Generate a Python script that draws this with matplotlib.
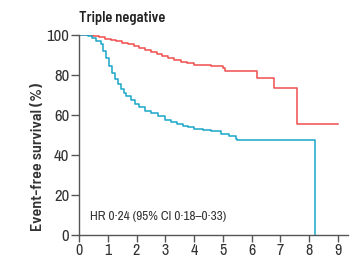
import matplotlib
matplotlib.use("Agg")
import matplotlib.pyplot as plt

plt.rcParams['font.family'] = ['Archivo Narrow', 'DejaVu Sans']
BOLD = ['Barlow Semi Condensed', 'Archivo Narrow', 'DejaVu Sans']

title = "Triple negative"
ylabel = "Event-free survival (%)"
annotation = "HR 0·24 (95% CI 0·18–0·33)"
xticks = [0, 1, 2, 3, 4, 5, 6, 7, 8, 9]
yticks = [0, 20, 40, 60, 80, 100]

red_t = [0, 0.5, 0.7, 0.9, 1.1, 1.3, 1.5, 1.7, 1.9, 2.1, 2.3, 2.5, 2.7, 2.9,
         3.1, 3.3, 3.55, 3.75, 4.0, 4.6, 5.0, 5.07, 6.17, 6.77, 7.59, 9.0]
red_s = [100, 99.4, 98.8, 98.0, 97.5, 96.8, 96.0, 95.3, 94.5, 93.5, 92.6, 91.7,
         90.5, 89.4, 88.6, 87.6, 86.7, 86.2, 85.2, 84.7, 83.3, 82.0, 78.7, 73.5,
         55.3, 55.3]

blue_t = [0, 0.3, 0.45, 0.6, 0.75, 0.85, 0.95, 1.05, 1.15, 1.25, 1.35, 1.45,
          1.55, 1.65, 1.8, 1.95, 2.1, 2.3, 2.5, 2.75, 3.0, 3.2, 3.4, 3.6, 3.8,
          4.0, 4.3, 4.6, 4.95, 5.2, 5.45, 5.5, 8.2, 8.2]
blue_s = [100, 99.5, 98.5, 97, 95.5, 92, 88.5, 84.5, 81, 78, 75.5, 73, 71,
          69.5, 67.5, 65.5, 64, 62, 60.8, 59.5, 57.5, 56.3, 55.3, 54.5, 53.8,
          53, 52.4, 51.8, 50.5, 49.3, 48, 47.3, 47.3, 0]

fig = plt.figure(figsize=(3.5, 2.58), dpi=100)
ax = fig.add_axes([79/350, 23/258, 269/350, 200/258])

ax.step(red_t, red_s, where='post', color='#f04e4e', lw=1.1)
ax.step(blue_t, blue_s, where='post', color='#1aa5c8', lw=1.1)

ax.set_xlim(0, 9.35)
ax.set_ylim(0, 100)
ax.set_xticks(xticks)
ax.set_yticks(yticks)
for s in ['top', 'right']:
    ax.spines[s].set_visible(False)
for s in ['left', 'bottom']:
    ax.spines[s].set_color('#555555')
    ax.spines[s].set_linewidth(1.0)
ax.tick_params(axis='both', direction='out', length=6, width=1.0,
               color='#555555', labelcolor='#333333', labelsize=12, pad=1)
ax.tick_params(axis='x', labelsize=11.5, pad=0.5, length=5)
fig.text(38/350, 1 - 157/258, ylabel, rotation=90, fontsize=11.5,
         fontweight='semibold', color='#333333', ha='center', va='center',
         family=BOLD)
ax.text(0.0, 1.05, title, transform=ax.transAxes, fontsize=10.5,
        fontweight='semibold', color='#222222', ha='left', va='bottom',
        family=BOLD)
ax.text(0.37, 9.5, annotation, fontsize=9.5, color='#333333', ha='left',
        va='center')

fig.savefig('out.png', dpi=100)
